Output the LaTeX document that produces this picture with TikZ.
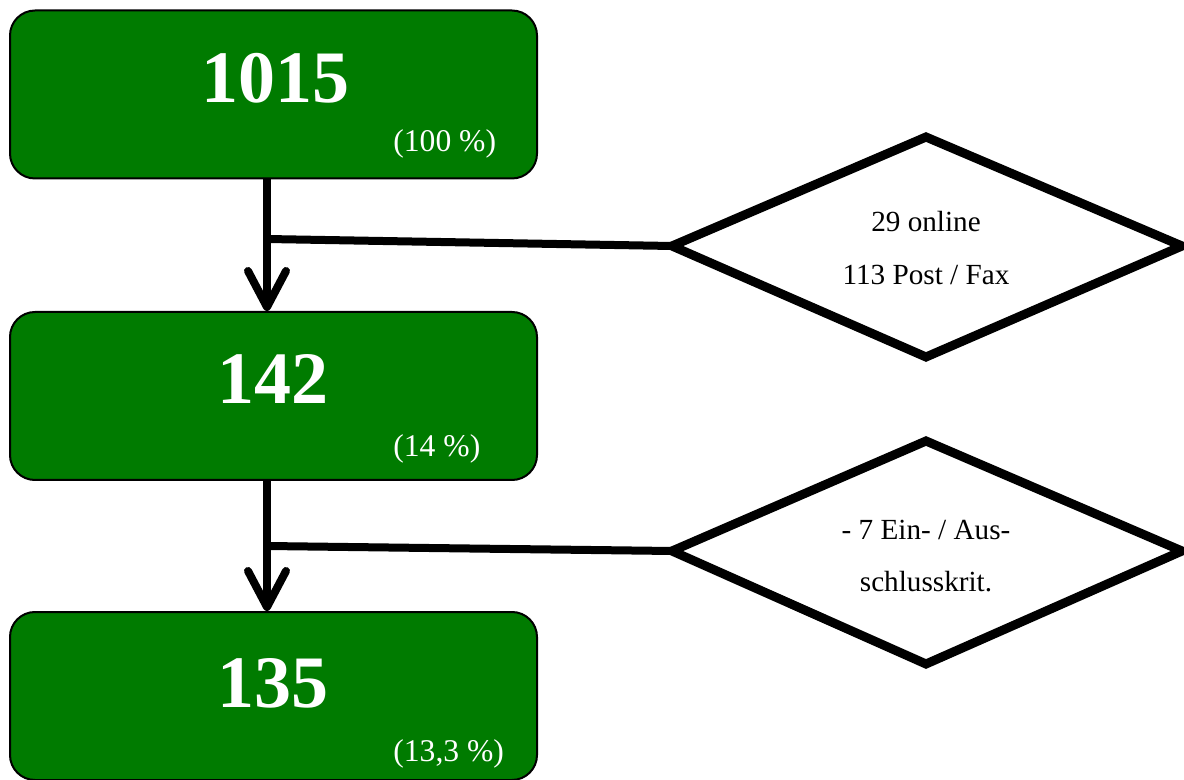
\documentclass[tikz,border=0pt]{standalone}
\usepackage{fontspec}
\setmainfont{Liberation Serif}
\usetikzlibrary{arrows.meta}
\definecolor{boxgreen}{RGB}{0,123,0}
\tikzset{
  countbox/.style={draw=black, line width=1pt, fill=boxgreen, rounded corners=12.5pt,
    minimum width=263.5pt, minimum height=84pt, inner sep=0pt},
  bignum/.style={anchor=base, text=white, inner sep=0pt, font=\fontsize{37}{40}\selectfont\bfseries},
  pct/.style={anchor=base west, text=white, inner sep=0pt, font=\fontsize{15.8}{18}\selectfont},
  dtext/.style={anchor=base, inner sep=0pt, font=\fontsize{14.6}{17}\selectfont},
  flow/.style={line width=4pt, -{Straight Barb[length=18pt, width=19pt, line cap=round, line join=round]}},
  link/.style={line width=4pt},
  dia/.style={line width=4.5pt, line join=miter, fill=white}
}
\begin{document}
\begin{tikzpicture}[x=0.5pt, y=-0.5pt]
\useasboundingbox (0,0) rectangle (1184,780);
% boxes
\node[countbox] (b1) at (273.5,94.5) {};
\node[countbox] (b2) at (273.5,396) {};
\node[countbox] (b3) at (273.5,696) {};
\node[bignum] (n1) at (275,103) {1015};
\node[bignum] (n2) at (273,404) {142};
\node[bignum] (n3) at (273,707) {135};
\node[pct] (p1) at (393,152) {(100 \%)};
\node[pct] (p2) at (393,457) {(14 \%)};
\node[pct] (p3) at (393,761) {(13,3 \%)};
% diamonds
\coordinate (d1w) at (672,246);
\coordinate (d1n) at (926,137);
\coordinate (d1e) at (1182,246);
\coordinate (d1s) at (926,357);
\draw[dia] (d1w) -- (d1n) -- (d1e) -- (d1s) -- cycle;
\node[dtext] (t1a) at (926,232) {29 online};
\node[dtext] (t1b) at (926,285) {113 Post / Fax};
\coordinate (d2w) at (672,551);
\coordinate (d2n) at (926,441);
\coordinate (d2e) at (1182,551);
\coordinate (d2s) at (926,664);
\draw[dia] (d2w) -- (d2n) -- (d2e) -- (d2s) -- cycle;
\node[dtext] (t2a) at (926,540) {- 7 Ein- / Aus-};
\node[dtext] (t2b) at (926,592) {schlusskrit.};
% connectors
\coordinate (j1) at (267,239);
\coordinate (j2) at (267,546);
\draw[flow] (j1 |- b1.south) -- (j1 |- b2.north);
\draw[flow] (j2 |- b2.south) -- (j2 |- b3.north);
\draw[link] (j1) -- (d1w);
\draw[link] (j2) -- (d2w);
\end{tikzpicture}
\end{document}
